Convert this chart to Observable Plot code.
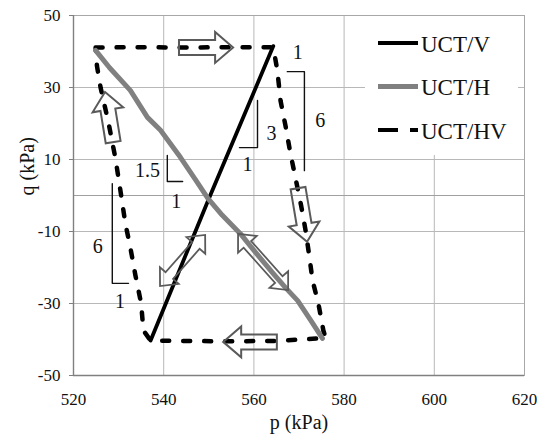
<!DOCTYPE html>
<html><head><meta charset="utf-8">
<script src="https://cdn.jsdelivr.net/npm/d3@7"></script>
<script src="https://cdn.jsdelivr.net/npm/@observablehq/plot@0.6"></script>
<style>body{margin:0;background:#fff;font-family:serif}</style>
</head><body><div id="chart"></div>
<script>
const xTicks = [520, 540, 560, 580, 600, 620];
const yTicks = [-50, -30, -10, 10, 30, 50];
const xGrid = [540, 560, 580, 600];
const yGrid = [-30, -10, 10, 30];

// UCT/V
const uctV_p = [537.1, 550.1, 564.3];
const uctV_q = [-40.3, -0.6, 41.5];
// UCT/H
const uctH_p = [524.9, 528.0, 532.6, 536.4, 539.3, 543.7, 547.0, 549.8, 553.0, 557.0, 560.5, 564.3, 567.0, 569.7, 572.5, 575.2];
const uctH_q = [40.3, 35.5, 29.2, 21.7, 18.1, 10.6, 4.5, -0.8, -5.5, -10.6, -16.0, -21.7, -25.6, -29.2, -34.5, -39.7];
// UCT/HV (clockwise loop)
const uctHV_p = [524.9, 535, 545, 555, 564.3, 565.2, 565.9, 567.0, 568.1, 569.2, 570.5, 571.5, 572.3, 573.0, 574.3, 575.4, 575.9, 565.0, 553.0, 545.0, 537.1, 535.5, 535.0, 533.7, 532.6, 531.5, 530.4, 529.3, 527.8, 526.0, 525.2, 524.9];
const uctHV_q = [41.1, 41.2, 41.1, 41.2, 41.2, 34.7, 26.4, 19.4, 11.7, 5.0, -3.0, -10.0, -17.0, -23.6, -30.0, -37.5, -39.6, -40.4, -40.5, -40.4, -40.3, -37.5, -30.0, -22.0, -14.4, -7.8, 1.4, 10.3, 20.0, 30.0, 36.0, 41.1];

// slope brackets
const brackets = [
  [[567.4, 34.4], [571.2, 34.4], [571.2, 6.9]],
  [[560.8, 26.4], [560.8, 13.3], [556.8, 13.3]],
  [[540.8, 11.1], [540.8, 3.9], [544.2, 3.9]],
  [[528.6, 3.3], [528.6, -24.4], [532.2, -24.4]]
];
const bracketText = ["1", "6", "3", "1", "1.5", "1", "6", "1"];
const bracketText_p = [569.7, 574.7, 563.9, 558.6, 536.4, 542.8, 525.4, 530.3];
const bracketText_q = [39.6, 20.8, 17.2, 8.5, 6.8, -1.8, -14.3, -29.6];

// hollow arrows: from, to (data), double-headed?
const arrows = [
  {from: [543.5, 41.0], to: [555.5, 41.0], double: false},
  {from: [569.9, 1.9], to: [571.9, -13.0], double: false},
  {from: [565.2, -40.8], to: [553.3, -40.8], double: false},
  {from: [528.9, 14.7], to: [527.1, 28.6], double: false},
  {from: [539.3, -25.3], to: [549.3, -11.1], double: true},
  {from: [556.6, -10.8], to: [567.7, -26.4], double: true}
];

const legendNames = ["UCT/V", "UCT/H", "UCT/HV"];
const legendColors = ["#000000", "#808080", "#000000"];

const rows = (ps, qs) => ps.map((p, i) => ({p, q: qs[i]}));
const vRows = rows(uctV_p, uctV_q);
const hRows = rows(uctH_p, uctH_q);
const hvRows = rows(uctHV_p, uctHV_q);
const bracketRows = brackets.flatMap((b, id) => b.map(([p, q]) => ({id, p, q})));
const labelRows = bracketText.map((t, i) => ({t, p: bracketText_p[i], q: bracketText_q[i]}));

function arrowPts(x0, y0, x1, y1, bw, hw, hl, dbl) {
  const dx = x1 - x0, dy = y1 - y0, L = Math.hypot(dx, dy);
  const ux = dx / L, uy = dy / L, nx = -uy, ny = ux;
  const P = (t, s) => [x0 + ux * t + nx * s, y0 + uy * t + ny * s];
  if (!dbl) return [P(0, -bw/2), P(L-hl, -bw/2), P(L-hl, -hw/2), P(L, 0), P(L-hl, hw/2), P(L-hl, bw/2), P(0, bw/2)];
  return [P(0, 0), P(hl, -hw/2), P(hl, -bw/2), P(L-hl, -bw/2), P(L-hl, -hw/2), P(L, 0), P(L-hl, hw/2), P(L-hl, bw/2), P(hl, bw/2), P(hl, hw/2)];
}

function arrowMark(index, scales) {
  const g = d3.create("svg:g");
  for (const a of arrows) {
    const x0 = scales.x(a.from[0]), y0 = scales.y(a.from[1]);
    const x1 = scales.x(a.to[0]), y1 = scales.y(a.to[1]);
    const pts = a.double ? arrowPts(x0, y0, x1, y1, 10, 25, 14, true) : arrowPts(x0, y0, x1, y1, 15, 31, 18, false);
    g.append("path")
      .attr("d", "M" + pts.map(p => p.join(",")).join("L") + "Z")
      .attr("fill", "none")
      .attr("stroke", "#5a5a5a")
      .attr("stroke-width", a.double ? 1.8 : 2)
      .attr("stroke-linejoin", "miter");
  }
  return g.node();
}

const FONT = "serif";
const fmt = d => String(d);

const svg = Plot.plot({
  width: 541, height: 441,
  marginLeft: 73, marginRight: 17, marginTop: 15, marginBottom: 66,
  style: "background: white; overflow: visible; font-family: serif;",
  x: {domain: [520, 620]},
  y: {domain: [-50, 50]},
  marks: [
    Plot.gridX(xGrid, {stroke: "#b8b8b8", strokeOpacity: 1}),
    Plot.gridY(yGrid, {stroke: "#b8b8b8", strokeOpacity: 1}),
    Plot.ruleY([0], {stroke: "#a0a0a0"}),
    Plot.frame({stroke: "#a8a8a8"}),
    Plot.ruleX([520], {stroke: "#808080", strokeWidth: 1.4}),
    Plot.ruleY([-50], {stroke: "#808080", strokeWidth: 1.4}),
    Plot.axisY(yTicks, {tickSize: 4, tickPadding: 9, fontSize: 17, fontFamily: FONT, label: null, stroke: "#808080", fill: "#111", tickFormat: fmt}),
    Plot.axisX(xTicks, {tickSize: 0, tickPadding: 17, fontSize: 17, fontFamily: FONT, label: null, fill: "#111", tickFormat: fmt}),
    Plot.text(["p (kPa)"], {frameAnchor: "bottom", dy: 53, fontSize: 20, fontFamily: FONT, fill: "#111"}),
    Plot.text(["q (kPa)"], {frameAnchor: "left", dx: -46, rotate: -90, fontSize: 20, fontFamily: FONT, fill: "#111"}),
    Plot.line(bracketRows, {x: "p", y: "q", z: "id", stroke: "#111", strokeWidth: 1.4}),
    Plot.text(labelRows, {x: "p", y: "q", text: "t", fontSize: 20, fontFamily: FONT, fill: "#111"}),
    Plot.line(hvRows, {x: "p", y: "q", stroke: "#000", strokeWidth: 4.5, strokeDasharray: "7,14", strokeLinecap: "round", curve: "linear"}),
    Plot.line(vRows, {x: "p", y: "q", stroke: "#000", strokeWidth: 3.8}),
    Plot.line(hRows, {x: "p", y: "q", stroke: "#808080", strokeWidth: 5}),
    arrowMark
  ]
});

// legend inside the plot area
const lg = d3.select(svg).append("g").attr("text-anchor", "start").attr("font-family", FONT);
lg.append("rect").attr("x", 365).attr("y", 16).attr("width", 153).attr("height", 139).attr("fill", "white");
legendNames.forEach((name, i) => {
  const y = 43 + i * 43.5;
  lg.append("line").attr("x1", 378).attr("x2", 418).attr("y1", y).attr("y2", y)
    .attr("stroke", legendColors[i]).attr("stroke-width", i === 1 ? 5 : 4)
    .attr("stroke-dasharray", i === 2 ? "20,12" : null);
  lg.append("text").attr("x", 421).attr("y", y + 8.5).attr("font-size", 23)
    .attr("font-family", FONT)
    .attr("text-anchor", "start").attr("fill", "#111").text(name);
});

d3.select(svg).attr("font-family", FONT);

document.getElementById("chart").appendChild(svg);
</script>
</body></html>
